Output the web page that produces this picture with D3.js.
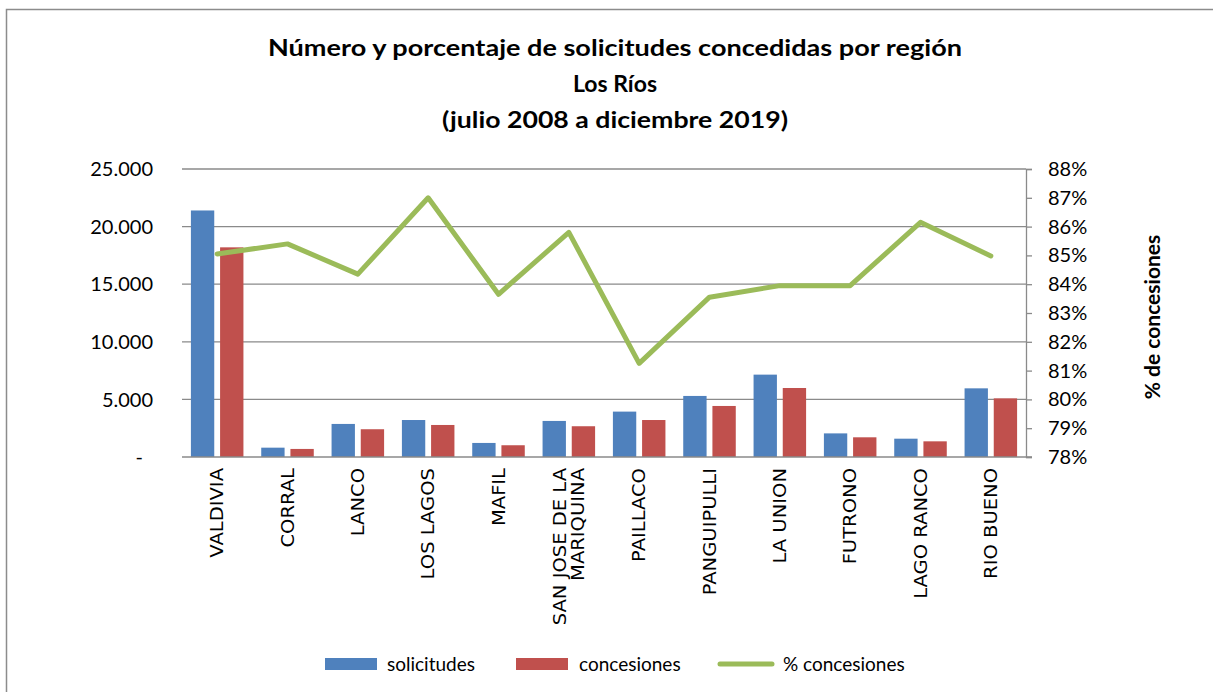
<!DOCTYPE html>
<html>
<head>
<meta charset="utf-8">
<script src="https://cdn.jsdelivr.net/npm/d3@7"></script>
<style>
html,body{margin:0;padding:0;background:#fff;}
svg{display:block;}
</style>
</head>
<body>
<svg id="chart" width="1213" height="692"></svg>
<script>
const categories = ["VALDIVIA","CORRAL","LANCO","LOS LAGOS","MAFIL","SAN JOSE DE LA MARIQUINA","PAILLACO","PANGUIPULLI","LA UNION","FUTRONO","LAGO RANCO","RIO BUENO"];
const solicitudes = [21400, 810, 2870, 3210, 1220, 3130, 3940, 5300, 7150, 2050, 1590, 5960];
const concesiones = [18200, 700, 2410, 2780, 1020, 2670, 3210, 4430, 5990, 1710, 1360, 5090];
const pctConcesiones = [85.05, 85.4, 84.35, 87.0, 83.65, 85.8, 81.25, 83.55, 83.95, 83.95, 86.15, 84.98];
const leftTicks = [0, 5000, 10000, 15000, 20000, 25000];
const rightTicks = [78, 79, 80, 81, 82, 83, 84, 85, 86, 87, 88];
const titleLines = ["Número y porcentaje de solicitudes concedidas por región", "Los Ríos", "(julio 2008 a diciembre 2019)"];
const seriesNames = ["solicitudes", "concesiones", "% concesiones"];
const rightAxisTitle = "% de concesiones";

const colors = {sol: "#4F81BD", con: "#C0504D", pct: "#9BBB59"};
const svg = d3.select("#chart");
const font = "Lato, 'Open Sans', sans-serif";

const plot = {left: 182, right: 1026, top: 169, bottom: 457};

// outer border (only top & left visible)
svg.append("rect").attr("x", 6.5).attr("y", 9.5).attr("width", 1300).attr("height", 800)
  .attr("fill", "none").attr("stroke", "#8c8c8c").attr("stroke-width", 1.5);

// title
const titleY = [56, 92, 128];
const titleLen = [694, null, 346];
titleLines.forEach((t, i) => {
  const tx = svg.append("text").attr("x", 615).attr("y", titleY[i])
    .attr("text-anchor", "middle").attr("font-family", font).attr("font-weight", "bold")
    .attr("font-size", 23).attr("fill", "#000").text(t);
  if (titleLen[i]) tx.attr("textLength", titleLen[i]).attr("lengthAdjust", "spacingAndGlyphs");
});

const x = d3.scaleBand().domain(categories).range([plot.left, plot.right]).padding(0);
const xs = d3.scaleBand().domain(["sol", "con"]).range([0, x.bandwidth()]).paddingInner(0.2).paddingOuter(0.305);
const yL = d3.scaleLinear().domain([0, 25000]).range([plot.bottom, plot.top]);
const yR = d3.scaleLinear().domain([78, 88]).range([plot.bottom, plot.top]);

// gridlines
svg.append("g").selectAll("line").data(leftTicks.filter(d => d > 0)).join("line")
  .attr("x1", plot.left).attr("x2", plot.right)
  .attr("y1", d => yL(d)).attr("y2", d => yL(d))
  .attr("stroke", "#8a8a8a").attr("stroke-width", 1.3);

// left axis labels
const fmt = d => d === 0 ? "-" : d3.format(",")(d).replace(/,/g, ".");
svg.append("g").selectAll("text").data(leftTicks).join("text")
  .attr("x", d => d === 0 ? 143 : 153).attr("y", d => yL(d)).attr("dy", "0.36em")
  .attr("text-anchor", "end").attr("font-family", font).attr("font-size", 20).attr("fill", "#000")
  .text(fmt);

// bars
const g = svg.append("g");
categories.forEach((c, i) => {
  g.append("rect").attr("x", x(c) + xs("sol")).attr("width", xs.bandwidth())
    .attr("y", yL(solicitudes[i])).attr("height", yL(0) - yL(solicitudes[i]))
    .attr("fill", colors.sol);
  g.append("rect").attr("x", x(c) + xs("con")).attr("width", xs.bandwidth())
    .attr("y", yL(concesiones[i])).attr("height", yL(0) - yL(concesiones[i]))
    .attr("fill", colors.con);
});

// bottom axis line
svg.append("line").attr("x1", plot.left).attr("x2", plot.right + 6).attr("y1", plot.bottom).attr("y2", plot.bottom)
  .attr("stroke", "#8a8a8a").attr("stroke-width", 1.3);

// right axis
const rAxis = d3.axisRight(yR).tickValues(rightTicks).tickSize(6).tickFormat(d => d + "%");
const ra = svg.append("g").attr("transform", `translate(${plot.right},0)`).call(rAxis);
ra.select(".domain").attr("stroke", "#8a8a8a").attr("stroke-width", 1.3);
ra.selectAll(".tick line").attr("stroke", "#8a8a8a").attr("stroke-width", 1.3);
ra.selectAll(".tick text").attr("x", 22).attr("font-family", font).attr("font-size", 20).attr("fill", "#000");

// line
const line = d3.line().x((d, i) => x(categories[i]) + x.bandwidth() / 2).y(d => yR(d));
svg.append("path").datum(pctConcesiones).attr("d", line)
  .attr("fill", "none").attr("stroke", colors.pct).attr("stroke-width", 5)
  .attr("stroke-linejoin", "round").attr("stroke-linecap", "round");

// x labels
const lblFont = "'DejaVu Sans', Verdana, sans-serif";
categories.forEach(c => {
  const cx = x(c) + x.bandwidth() / 2;
  const lines = c === "SAN JOSE DE LA MARIQUINA" ? ["SAN JOSE DE LA", "MARIQUINA"] : [c];
  const lh = 18;
  lines.forEach((l, j) => {
    const off = (j - (lines.length - 1) / 2) * lh;
    svg.append("text")
      .attr("transform", `translate(${cx + off},468) rotate(-90) scale(1.15,1)`)
      .attr("dy", "0.36em").attr("text-anchor", "end")
      .attr("font-family", lblFont).attr("font-size", 17).attr("fill", "#000")
      .text(l);
  });
});

// right axis title
svg.append("text").attr("transform", "translate(1152,317) rotate(-90)")
  .attr("dy", "0.36em").attr("text-anchor", "middle")
  .attr("font-family", font).attr("font-weight", "bold").attr("font-size", 21).attr("fill", "#000")
  .text(rightAxisTitle);

// legend
const leg = svg.append("g");
leg.append("rect").attr("x", 325).attr("y", 658).attr("width", 52).attr("height", 12).attr("fill", colors.sol);
leg.append("text").attr("x", 387).attr("y", 664).attr("dy", "0.36em").attr("font-family", font).attr("font-size", 19).text(seriesNames[0]);
leg.append("rect").attr("x", 516).attr("y", 658).attr("width", 52).attr("height", 12).attr("fill", colors.con);
leg.append("text").attr("x", 579).attr("y", 664).attr("dy", "0.36em").attr("font-family", font).attr("font-size", 19).text(seriesNames[1]);
leg.append("line").attr("x1", 720).attr("x2", 772).attr("y1", 664).attr("y2", 664)
  .attr("stroke", colors.pct).attr("stroke-width", 5).attr("stroke-linecap", "round");
leg.append("text").attr("x", 783).attr("y", 664).attr("dy", "0.36em").attr("font-family", font).attr("font-size", 19).text(seriesNames[2]);
</script>
</body>
</html>
